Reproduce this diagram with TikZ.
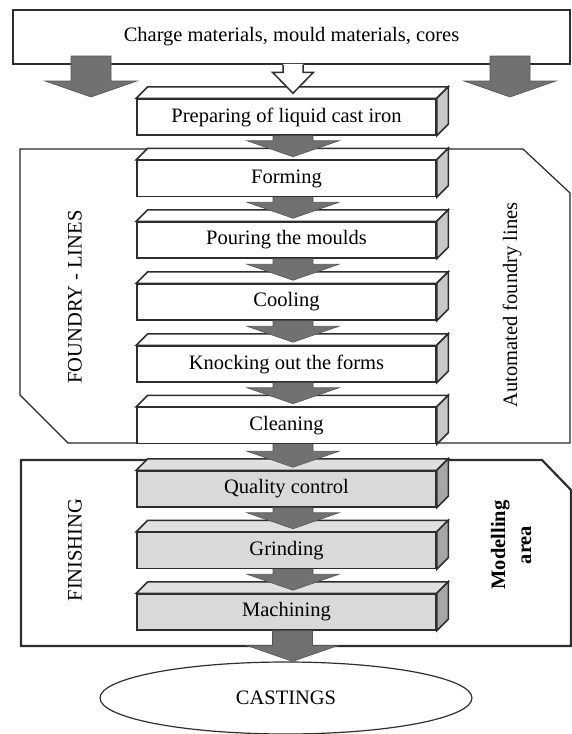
\documentclass[tikz,border=0pt]{standalone}
\usepackage{fontspec}
\setmainfont{Liberation Serif}
\usetikzlibrary{calc,shapes.geometric}
\definecolor{sidecol}{HTML}{C8C8C8}
\definecolor{grayfront}{HTML}{D9D9D9}
\definecolor{graytop}{HTML}{E0E0E0}
\definecolor{grayside}{HTML}{A6A6A6}
\definecolor{arrowcol}{HTML}{717171}
\definecolor{linecol}{HTML}{2E2E2E}
\tikzset{
  boxline/.style={draw=linecol, line width=1.5pt},
  procbox/.style={boxline, fill=white, minimum width=299pt, minimum height=36pt, inner sep=0pt},
  finbox/.style={procbox, fill=grayfront},
  grayarrow/.style={fill=arrowcol, draw=arrowcol!75!black, line width=0.6pt}
}
% top and side faces of a box node
\newcommand{\faces}[3]{%
  \draw[boxline, fill=#2] (#1.north west) -- ++(11.5,-11.5) -- ($(#1.north east)+(11.5,-11.5)$) -- (#1.north east) -- cycle;
  \draw[boxline, fill=#3] (#1.north east) -- ++(11.5,-11.5) -- ($(#1.south east)+(11.5,-11.5)$) -- (#1.south east) -- cycle;}
% thick gray arrow, shaft from #1 down to the tip #2
\newcommand{\blockarrow}[2]{%
  \draw[grayarrow] let \p1=(#1), \p2=(#2) in
    (\x2-20pt,\y1) -- (\x2-20pt,\y2+16pt) -- (\x2-46pt,\y2+16pt) -- (\x2,\y2)
    -- (\x2+46pt,\y2+16pt) -- (\x2+20pt,\y2+16pt) -- (\x2+20pt,\y1) -- cycle;}

\begin{document}
\begin{tikzpicture}[x=1pt, y=-1pt, font=\fontsize{20.5}{25}\selectfont]
\useasboundingbox (0,0) rectangle (572,734);
% areas
\draw[draw=black!85, line width=1.2pt] (20,149) -- (523,149) -- (570,193) -- (570,443) -- (68,443) -- (20,395) -- cycle;
\draw[draw=linecol, line width=2.2pt] (21,460) -- (542,460) -- (571,490) -- (571,646) -- (21,646) -- cycle;

\draw (291.5,37) node[boxline, fill=white, minimum width=557pt, minimum height=54pt](charge) {Charge materials, mould materials, cores};

% foundry line
\draw (286.5,117) node[procbox](prep) {Preparing of liquid cast iron};
\faces{prep}{white}{sidecol}
\draw (286.5,178.5) node[procbox](form) {Forming};
\faces{form}{white}{sidecol}
\draw (286.5,240) node[procbox](pour) {Pouring the moulds};
\faces{pour}{white}{sidecol}
\draw (286.5,302) node[procbox](cool) {Cooling};
\faces{cool}{white}{sidecol}
\draw (286.5,364) node[procbox](knock) {Knocking out the forms};
\faces{knock}{white}{sidecol}
\draw (286.5,425.5) node[procbox](clean) {Cleaning};
\faces{clean}{white}{sidecol}

% finishing
\draw (286.5,489) node[finbox](qual) {Quality control};
\faces{qual}{graytop}{grayside}
\draw (286.5,550.5) node[finbox](grind) {Grinding};
\faces{grind}{graytop}{grayside}
\draw (286.5,612) node[finbox](mach) {Machining};
\faces{mach}{graytop}{grayside}

\draw (286,698) node[ellipse, draw=linecol, line width=1.2pt, minimum width=372pt, minimum height=72pt](cast) {CASTINGS};

% arrows
\coordinate (lsrc) at (91,56);
\coordinate (ltip) at (91,97);
\coordinate (rsrc) at (510,56);
\coordinate (rtip) at (510,97);
\blockarrow{lsrc}{ltip}
\blockarrow{rsrc}{rtip}
\path[fill=white] let \p1=(charge.south), \p2=($(prep.north)+(6.5,-5)$) in
  (\x2-10pt,\y1+1pt) -- (\x2-10pt,\y2+21pt) -- (\x2-20.5pt,\y2+21pt) -- (\x2,\y2)
  -- (\x2+20.5pt,\y2+21pt) -- (\x2+10pt,\y2+21pt) -- (\x2+10pt,\y1+1pt) -- cycle;
\draw[boxline] let \p1=(charge.south), \p2=($(prep.north)+(6.5,-5)$) in
  (\x2-10pt,\y1) -- (\x2-10pt,\y2+21pt) -- (\x2-20.5pt,\y2+21pt) -- (\x2,\y2)
  -- (\x2+20.5pt,\y2+21pt) -- (\x2+10pt,\y2+21pt) -- (\x2+10pt,\y1);
\blockarrow{$(prep.south)+(6.5,0)$}{$(form.north)+(6.5,-3)$}
\blockarrow{$(form.south)+(6.5,0)$}{$(pour.north)+(6.5,-3)$}
\blockarrow{$(pour.south)+(6.5,0)$}{$(cool.north)+(6.5,-3)$}
\blockarrow{$(cool.south)+(6.5,0)$}{$(knock.north)+(6.5,-3)$}
\blockarrow{$(knock.south)+(6.5,0)$}{$(clean.north)+(6.5,-3)$}
\blockarrow{$(clean.south)+(6.5,0)$}{$(qual.north)+(6.5,-3)$}
\blockarrow{$(qual.south)+(6.5,0)$}{$(grind.north)+(6.5,-3)$}
\blockarrow{$(grind.south)+(6.5,0)$}{$(mach.north)+(6.5,-3)$}
\blockarrow{$(mach.south)+(6.5,0)$}{$(cast.north)+(6.5,0)$}

% side labels
\draw (75,297) node[rotate=90](foundrylbl) {FOUNDRY - LINES};
\draw (512,305) node[rotate=90](autolbl) {Automated foundry lines};
\draw (75,550) node[rotate=90](finlbl) {FINISHING};
\draw (511,545) node[rotate=90, align=center, font=\fontsize{20.5}{26}\selectfont\bfseries](modlbl) {Modelling\\area};
\end{tikzpicture}
\end{document}
